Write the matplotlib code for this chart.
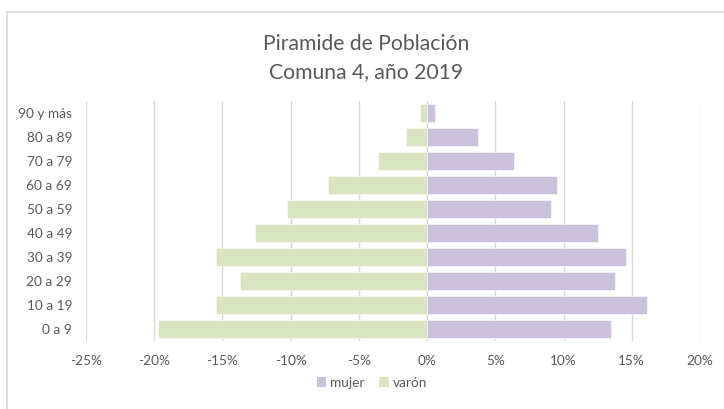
import matplotlib
matplotlib.use("Agg")
import matplotlib.pyplot as plt
from matplotlib.lines import Line2D
from matplotlib.patches import Patch
import numpy as np

categories = ["0 a 9", "10 a 19", "20 a 29", "30 a 39", "40 a 49",
              "50 a 59", "60 a 69", "70 a 79", "80 a 89", "90 y más"]
mujer = [13.5, 16.1, 13.8, 14.6, 12.5, 9.1, 9.5, 6.4, 3.75, 0.6]
varon = [-19.75, -15.5, -13.7, -15.45, -12.6, -10.3, -7.3, -3.6, -1.55, -0.5]
xticks = [-25, -20, -15, -10, -5, 0, 5, 10, 15, 20]
title = "Piramide de Población\nComuna 4, año 2019"

c_mujer = "#CCC1DA"
c_varon = "#D9E4C0"
txt = "#595959"
font = "Lato"

W, H = 724, 409
fig = plt.figure(figsize=(W / 100, H / 100), dpi=100)
ax = fig.add_axes([86 / W, 1 - 341 / H, (700 - 86) / W, (341 - 101) / H])

y = np.arange(len(categories))
ax.barh(y, varon, height=0.79, color=c_varon, edgecolor="white", linewidth=0.4, zorder=3, label="varón")
ax.barh(y, mujer, height=0.79, color=c_mujer, edgecolor="white", linewidth=0.4, zorder=3, label="mujer")

ax.set_xlim(-25, 20)
ax.set_ylim(-0.5, len(categories) - 0.5)
ax.set_xticks(xticks)
ax.set_xticklabels([f"{v}%" for v in xticks], fontsize=9.8, color=txt, family=font)
ax.set_yticks(y)
ax.set_yticklabels(categories, fontsize=9.8, color=txt, family=font)
ax.tick_params(axis="both", length=0)
ax.tick_params(axis="x", pad=10)
ax.tick_params(axis="y", pad=10)
ax.grid(axis="x", color="#D9D9D9", linewidth=1.0, zorder=0)
for s in ax.spines.values():
    s.set_visible(False)

fig.text(366 / W, 1 - 58 / H, title, ha="center", va="center", fontsize=15.2,
         color=txt, family=font, linespacing=1.5)

handles = [Patch(facecolor=c_mujer, label="mujer"), Patch(facecolor=c_varon, label="varón")]
leg = fig.legend(handles=handles, loc="center", bbox_to_anchor=(372 / W, 1 - 383 / H),
                 ncol=2, frameon=False, fontsize=9.8, handlelength=0.7, handleheight=0.7,
                 handletextpad=0.3, columnspacing=1.1)
for t in leg.get_texts():
    t.set_color(txt)
    t.set_family(font)

# chart area border
fig.add_artist(Line2D([7 / W, 1], [1 - 12 / H, 1 - 12 / H], transform=fig.transFigure, color="#D9D9D9", linewidth=1.2))
fig.add_artist(Line2D([7 / W, 7 / W], [0, 1 - 12 / H], transform=fig.transFigure, color="#D9D9D9", linewidth=1.2))

fig.savefig("out.png", dpi=100)
